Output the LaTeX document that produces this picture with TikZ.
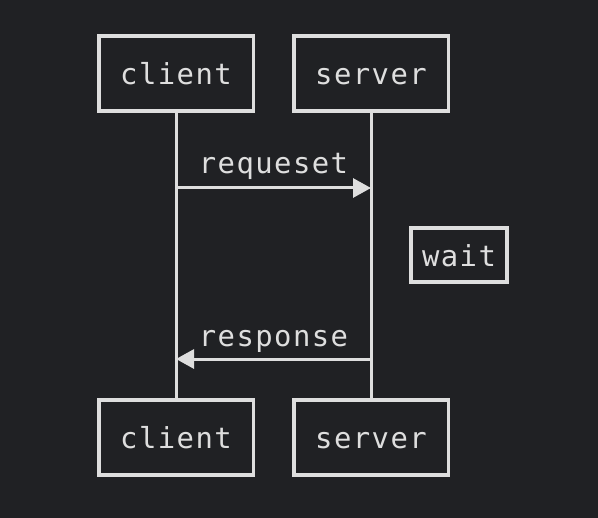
\documentclass[tikz,border=0pt]{standalone}
\usepackage{fontspec}
\newfontfamily\monofont[LetterSpace=5]{DejaVu Sans Mono}
\usetikzlibrary{arrows.meta}
\definecolor{bg}{HTML}{202124}
\definecolor{fg}{HTML}{DEDEDE}
\tikzset{
  txt/.style={text=fg, font=\monofont\fontsize{29}{36}\selectfont},
  actor/.style={txt, draw=fg, line width=3.5bp, minimum width=154.5bp, minimum height=75bp, inner sep=0pt, text height=22bp, text depth=0pt},
  waitbox/.style={txt, draw=fg, line width=3.5bp, minimum width=96bp, minimum height=54bp, inner sep=0pt, text height=22bp, text depth=0pt},
  lifeline/.style={draw=fg, line width=3bp},
  msg/.style={draw=fg, line width=3bp, -{Triangle[length=18bp,width=19bp]}},
  msglabel/.style={txt, anchor=base, inner sep=0pt}
}
\begin{document}
\begin{tikzpicture}[x=1bp,y=-1bp]
\fill[bg] (0,0) rectangle (598,518);
\useasboundingbox (0,0) rectangle (598,518);
\node[actor] (ct) at (176,73.5) {client};
\node[actor] (st) at (371,73.5) {server};
\node[actor] (cb) at (176,437.5) {client};
\node[actor] (sb) at (371,437.5) {server};
\draw[lifeline] (ct.south) -- (cb.north);
\draw[lifeline] (st.south) -- (sb.north);
\coordinate (rq1) at (176,188);
\coordinate (rq2) at (371,188);
\coordinate (rs1) at (371,359);
\coordinate (rs2) at (176,359);
\draw[msg] (rq1) -- (rq2);
\node[msglabel] (lrq) at (273.5,174) {requeset};
\node[waitbox] (w) at (459,255) {wait};
\draw[msg] (rs1) -- (rs2);
\node[msglabel] (lrs) at (273.5,346) {response};
\end{tikzpicture}
\end{document}
